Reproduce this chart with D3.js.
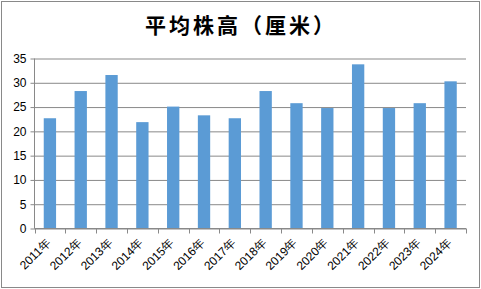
<!DOCTYPE html>
<html>
<head>
<meta charset="utf-8">
<script src="https://cdn.jsdelivr.net/npm/d3@7"></script>
<style>
    body { margin: 0; background: #fff; }
    svg { display: block; }
</style>
</head>
<body>
<div id="chart"></div>
<script>
// Chart data
const years = ["2011年", "2012年", "2013年", "2014年", "2015年", "2016年", "2017年",
               "2018年", "2019年", "2020年", "2021年", "2022年", "2023年", "2024年"];
const heights = [22.7, 28.3, 31.6, 21.9, 25.1, 23.3, 22.7, 28.3, 25.8, 24.8, 33.8, 24.8, 25.8, 30.3];
const yTicks = [0, 5, 10, 15, 20, 25, 30, 35];
const title = "平均株高（厘米）";

const width = 481, height = 289;
const margin = { top: 58.5, right: 15, bottom: 60.5, left: 34.5 };
const gridColor = '#898989';

const svg = d3.select('#chart')
    .append('svg')
    .attr('width', width)
    .attr('height', height);

// outer frame
svg.append('rect')
    .attr('x', 1.5).attr('y', 1.5)
    .attr('width', width - 3).attr('height', height - 3)
    .attr('fill', '#fff')
    .attr('stroke', gridColor)
    .attr('stroke-width', 1);

const x = d3.scaleBand()
    .domain(years)
    .range([margin.left, width - margin.right])
    .paddingInner(0.6)
    .paddingOuter(0.3);

const y = d3.scaleLinear()
    .domain([0, 35])
    .range([height - margin.bottom, margin.top]);

// gridlines + y labels
const yAxis = svg.append('g')
    .attr('transform', `translate(${margin.left},0)`)
    .call(d3.axisLeft(y)
        .tickValues(yTicks)
        .tickSize(-(width - margin.left - margin.right))
        .tickPadding(8));
yAxis.select('.domain').remove();
yAxis.selectAll('.tick line')
    .attr('x2', width - margin.left - margin.right)
    .attr('x1', -4)
    .attr('stroke', gridColor);
yAxis.selectAll('text')
    .attr('fill', '#000')
    .style('font-family', 'Liberation Sans, Arial, sans-serif')
    .style('font-size', '12px');

// y axis line
svg.append('line')
    .attr('x1', margin.left).attr('x2', margin.left)
    .attr('y1', y(35)).attr('y2', y(0))
    .attr('stroke', gridColor);

// bars
svg.selectAll('.bar')
    .data(heights)
    .enter()
    .append('rect')
    .attr('class', 'bar')
    .attr('x', (d, i) => x(years[i]))
    .attr('y', d => y(d))
    .attr('width', x.bandwidth())
    .attr('height', d => y(0) - y(d))
    .attr('fill', '#5b9bd5');

// x axis line + category boundary ticks
const edges = d3.range(years.length + 1).map(i => margin.left + i * (width - margin.left - margin.right) / years.length);
svg.append('line')
    .attr('x1', margin.left).attr('x2', width - margin.right)
    .attr('y1', y(0)).attr('y2', y(0))
    .attr('stroke', gridColor);
svg.selectAll('.xtick')
    .data(edges)
    .enter()
    .append('line')
    .attr('class', 'xtick')
    .attr('x1', d => Math.round(d) + 0.5).attr('x2', d => Math.round(d) + 0.5)
    .attr('y1', y(0)).attr('y2', y(0) + 5)
    .attr('stroke', gridColor);

// x labels rotated
svg.selectAll('.xlabel')
    .data(years)
    .enter()
    .append('text')
    .attr('class', 'xlabel')
    .attr('text-anchor', 'end')
    .attr('transform', d => `translate(${x(d) + x.bandwidth() / 2 + 1.5},${y(0) + 15}) rotate(-45)`)
    .style('font-family', 'Liberation Sans, Arial, sans-serif')
    .style('font-size', '12px')
    .attr('fill', '#000')
    .text(d => d);

// title
svg.append('text')
    .attr('x', 241)
    .attr('y', 33)
    .attr('text-anchor', 'middle')
    .style('font-family', 'Noto Sans CJK SC, sans-serif')
    .style('font-weight', 'bold')
    .style('font-size', '21px')
    .style('letter-spacing', '3px')
    .attr('fill', '#000')
    .text(title);
</script>
</body>
</html>
